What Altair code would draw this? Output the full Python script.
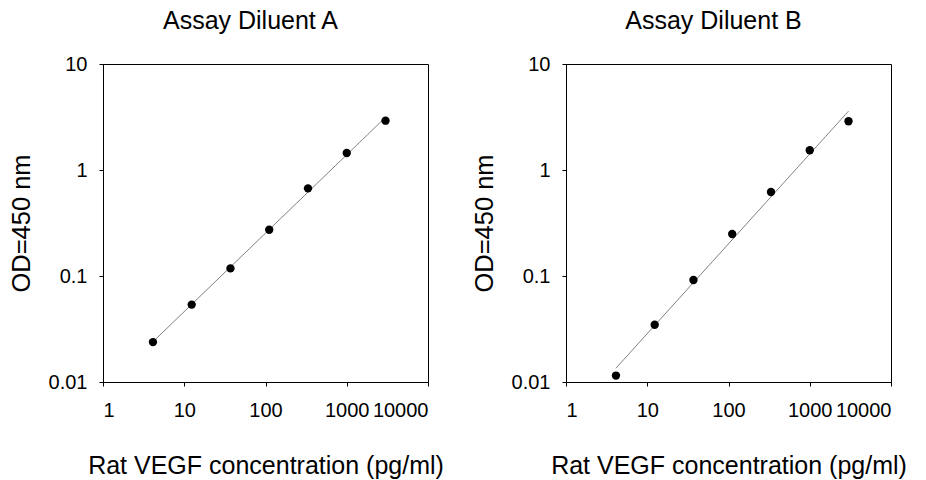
import altair as alt
import pandas as pd

conc = [4.12, 12.35, 37.04, 111.1, 333.3, 1000, 3000]
od_a = [0.0238, 0.0537, 0.118, 0.273, 0.671, 1.446, 2.92]
od_b = [0.0115, 0.0347, 0.0917, 0.249, 0.620, 1.535, 2.88]
titles = ["Assay Diluent A", "Assay Diluent B"]
x_ticks = [1, 10, 100, 1000, 10000]
y_ticks = [0.01, 0.1, 1, 10]
x_title = "Rat VEGF concentration (pg/ml)"
y_title = "OD=450 nm"

FONT = "Liberation Sans"


def panel(od, title):
    df = pd.DataFrame({"conc": conc, "od": od})
    x = alt.X(
        "conc:Q",
        scale=alt.Scale(type="log", domain=[1, 10000], nice=False),
        axis=alt.Axis(values=x_ticks, format="~g", title=x_title,
                      labelPadding=14, titlePadding=33, titleFontSize=25),
    )
    y = alt.Y(
        "od:Q",
        scale=alt.Scale(type="log", domain=[0.01, 10], nice=False),
        axis=alt.Axis(values=y_ticks, format="~g", title=y_title,
                      labelPadding=12, titlePadding=14, titleFontSize=25.5),
    )
    base = alt.Chart(df)
    line = base.transform_regression("conc", "od", method="pow").mark_line(
        color="#808080", strokeWidth=1
    ).encode(x=x, y=y)
    pts = base.mark_circle(size=70, color="black", opacity=1).encode(x=x, y=y)
    return alt.layer(line, pts).properties(
        width=325,
        height=318,
        title=alt.TitleParams(title, fontSize=25, font=FONT, fontWeight="normal",
                              color="black", baseline="alphabetic", offset=0, dx=-15),
    )


chart = alt.hconcat(panel(od_a, titles[0]), panel(od_b, titles[1]), spacing=138, bounds="flush").properties(
    padding={"top": 0, "left": 0, "right": 0, "bottom": 0}, background="white"
).configure_view(stroke="black", strokeWidth=1).configure_axis(
    grid=False,
    domainColor="black",
    tickColor="black",
    tickSize=4,
    labelFont=FONT,
    labelFontSize=20,
    labelColor="black",
    titleFont=FONT,
    titleFontWeight="normal",
    titleColor="black",
)

chart.save("out.html", embed_options={"renderer": "svg", "actions": False})
